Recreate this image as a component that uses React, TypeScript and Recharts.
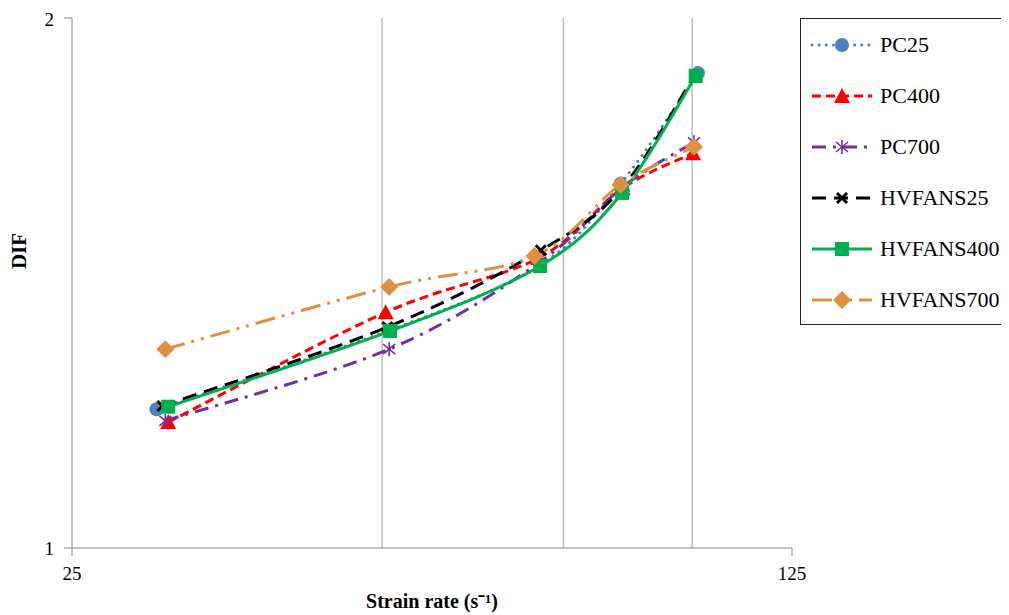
import React from "react";
import { LineChart, Line, XAxis, YAxis, ReferenceLine, Label } from "recharts";

const SERIES_NAMES = ["PC25", "PC400", "PC700", "HVFANS25", "HVFANS400", "HVFANS700"];

const X_PC25 = [30.2, 50.9, 71.2, 85.2, 101.3];
const Y_PC25 = [1.199, 1.33, 1.448, 1.61, 1.861];

const X_PC400 = [31.0, 50.4, 70.9, 85.6, 100.2];
const Y_PC400 = [1.179, 1.361, 1.461, 1.601, 1.676];

const X_PC700 = [30.8, 50.8, 71.2, 85.8, 100.4];
const Y_PC700 = [1.181, 1.297, 1.454, 1.605, 1.7];

const X_HV25 = [30.6, 50.6, 71.3, 85.4, 100.6];
const Y_HV25 = [1.204, 1.335, 1.476, 1.6, 1.857];

const X_HV400 = [31.0, 50.9, 71.2, 85.5, 100.8];
const Y_HV400 = [1.203, 1.328, 1.446, 1.591, 1.854];

const X_HV700 = [30.8, 50.8, 70.3, 85.2, 100.4];
const Y_HV700 = [1.297, 1.407, 1.465, 1.608, 1.69];

const X_TICKS = [25, 125];
const Y_TICKS = [1, 2];
const X_GRID = [50, 75, 100];

const zip = (xs: number[], ys: number[]) => xs.map((x, i) => ({ x, y: ys[i] }));

type MarkerKind = "circle" | "triangle" | "star" | "cross" | "square" | "diamond";

const STYLES: { color: string; dash: string; cap: "round" | "butt"; marker: MarkerKind }[] = [
  { color: "#4F81BD", dash: "0.1 7", cap: "round", marker: "circle" },
  { color: "#FF0000", dash: "9 5", cap: "butt", marker: "triangle" },
  { color: "#7030A0", dash: "14 7 3 7", cap: "butt", marker: "star" },
  { color: "#000000", dash: "14 8", cap: "butt", marker: "cross" },
  { color: "#00B050", dash: "", cap: "butt", marker: "square" },
  { color: "#E0913F", dash: "20 7 3 7 3 7", cap: "butt", marker: "diamond" },
];

const DATA = [
  zip(X_PC25, Y_PC25),
  zip(X_PC400, Y_PC400),
  zip(X_PC700, Y_PC700),
  zip(X_HV25, Y_HV25),
  zip(X_HV400, Y_HV400),
  zip(X_HV700, Y_HV700),
];

const FONT = "'Liberation Serif', 'Times New Roman', serif";

// Excel-like smoothed line (Catmull-Rom style cubic segments) as a curve factory
function excelSmooth(context: any) {
  let pts: [number, number][] = [];
  return {
    areaStart() {},
    areaEnd() {},
    lineStart() {
      pts = [];
    },
    point(x: number, y: number) {
      pts.push([+x, +y]);
    },
    lineEnd() {
      const n = pts.length;
      if (!n) return;
      context.moveTo(pts[0][0], pts[0][1]);
      for (let i = 0; i < n - 1; i++) {
        const p0 = pts[Math.max(i - 1, 0)];
        const p1 = pts[i];
        const p2 = pts[i + 1];
        const p3 = pts[Math.min(i + 2, n - 1)];
        const c1x = p1[0] + (p2[0] - p0[0]) / 6;
        const c1y = p1[1] + (p2[1] - p0[1]) / 6;
        const c2x = p2[0] - (p3[0] - p1[0]) / 6;
        const c2y = p2[1] - (p3[1] - p1[1]) / 6;
        context.bezierCurveTo(c1x, c1y, c2x, c2y, p2[0], p2[1]);
      }
    },
  };
}

function Marker({ kind, cx, cy, color }: { kind: MarkerKind; cx: number; cy: number; color: string }) {
  switch (kind) {
    case "circle":
      return <circle cx={cx} cy={cy} r={7} fill={color} />;
    case "triangle":
      return <polygon points={`${cx},${cy - 8} ${cx - 8},${cy + 7} ${cx + 8},${cy + 7}`} fill={color} />;
    case "star":
      return (
        <g stroke={color} strokeWidth={1.6}>
          <line x1={cx} y1={cy - 7} x2={cx} y2={cy + 7} />
          <line x1={cx - 6} y1={cy - 5} x2={cx + 6} y2={cy + 5} />
          <line x1={cx - 6} y1={cy + 5} x2={cx + 6} y2={cy - 5} />
        </g>
      );
    case "cross":
      return (
        <g stroke={color} strokeWidth={3}>
          <line x1={cx - 5} y1={cy - 5} x2={cx + 5} y2={cy + 5} />
          <line x1={cx - 5} y1={cy + 5} x2={cx + 5} y2={cy - 5} />
        </g>
      );
    case "square":
      return <rect x={cx - 7} y={cy - 7} width={14} height={14} fill={color} />;
    case "diamond":
      return <polygon points={`${cx},${cy - 9} ${cx + 9},${cy} ${cx},${cy + 9} ${cx - 9},${cy}`} fill={color} />;
  }
  return null;
}

function LegendBox() {
  return (
    <div
      style={{
        position: "absolute",
        left: 792,
        top: 10,
        width: 205,
        height: 305,
        border: "1px solid #222",
        background: "#fff",
        fontFamily: FONT,
      }}
    >
      {SERIES_NAMES.map((name, i) => {
        const s = STYLES[i];
        const top = 10 + i * 51;
        return (
          <div key={name} style={{ position: "absolute", left: 0, top, height: 32, display: "flex", alignItems: "center" }}>
            <svg width={72} height={32} style={{ marginLeft: 7, display: "block" }}>
              <line
                x1={4}
                y1={16}
                x2={64}
                y2={16}
                stroke={s.color}
                strokeWidth={3}
                strokeDasharray={s.dash || undefined}
                strokeLinecap={s.cap}
              />
              <Marker kind={s.marker} cx={34} cy={16} color={s.color} />
            </svg>
            <span style={{ fontSize: 22, color: "#000", whiteSpace: "nowrap" }}>{name}</span>
          </div>
        );
      })}
    </div>
  );
}

export default function App() {
  return (
    <div style={{ position: "relative", width: 1001, height: 607, fontFamily: FONT }}>
      <LineChart width={1001} height={607} margin={{ top: 10, right: 217, bottom: 37, left: 0 }}>
        <XAxis
          type="number"
          dataKey="x"
          scale="log"
          domain={[25, 125]}
          ticks={X_TICKS}
          allowDataOverflow
          stroke="#868686"
          tickSize={8}
          tickMargin={11}
          tick={{ fill: "#000", fontSize: 19, fontFamily: FONT }}
        >
          <Label
            value="Strain rate (s⁻¹)"
            position="bottom"
            offset={16}
            style={{ fontWeight: "bold", fontSize: 20, fill: "#000", fontFamily: FONT }}
          />
        </XAxis>
        <YAxis
          type="number"
          scale="log"
          domain={[1, 2]}
          ticks={Y_TICKS}
          allowDataOverflow
          width={64}
          stroke="#868686"
          tickSize={8}
          tickMargin={10}
          tick={{ fill: "#000", fontSize: 19, fontFamily: FONT }}
        >
          <Label
            content={(props: any) => {
              const vb = props.viewBox || {};
              const cx = (vb.x ?? 0) + 11;
              const cy = (vb.y ?? 0) + (vb.height ?? 0) / 2 - 32;
              return (
                <text
                  x={cx}
                  y={cy}
                  transform={`rotate(-90, ${cx}, ${cy})`}
                  textAnchor="middle"
                  dominantBaseline="central"
                  style={{ fontWeight: "bold", fontSize: 21, fill: "#000", fontFamily: FONT }}
                >
                  DIF
                </text>
              );
            }}
          />
        </YAxis>
        {X_GRID.map((g) => (
          <ReferenceLine key={g} x={g} stroke="#BFBFBF" strokeWidth={1.5} />
        ))}
        {SERIES_NAMES.map((name, i) => {
          const s = STYLES[i];
          return (
            <Line
              key={name}
              name={name}
              data={DATA[i]}
              dataKey="y"
              type={excelSmooth as any}
              stroke={s.color}
              strokeWidth={3}
              strokeDasharray={s.dash || undefined}
              strokeLinecap={s.cap}
              isAnimationActive={false}
              dot={(p: any) => (
                <g key={`${name}-${p.index}`}>
                  <Marker kind={s.marker} cx={p.cx} cy={p.cy} color={s.color} />
                </g>
              )}
              activeDot={false}
            />
          );
        })}
      </LineChart>
      <LegendBox />
    </div>
  );
}
